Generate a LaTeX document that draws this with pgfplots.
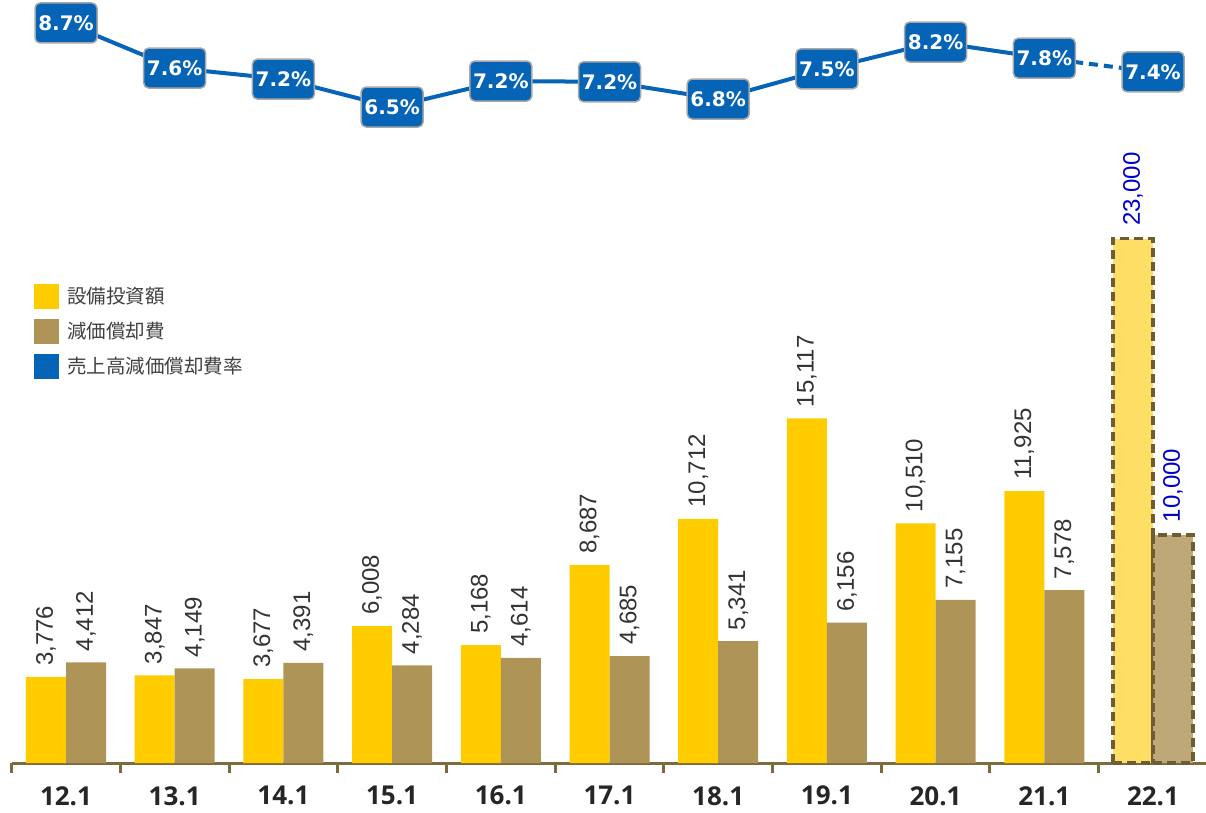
\documentclass[border=0pt]{standalone}
\usepackage{pgfplots}
\usepackage{pgfplotstable}
\pgfplotsset{compat=1.18}
\usepackage{fontspec}
\setmainfont{Liberation Sans}
\newfontfamily\cjk{Noto Sans CJK JP}
\newfontfamily\pctf{DejaVu Sans}
\newfontfamily\tickf{Open Sans}
\definecolor{yel}{HTML}{FFCC00}
\definecolor{brn}{HTML}{AE9457}
\definecolor{yelF}{HTML}{FFDE66}
\definecolor{brnF}{HTML}{BEA878}
\definecolor{dashC}{HTML}{6E5C35}
\definecolor{axisC}{HTML}{7D6B3D}
\definecolor{lineC}{HTML}{0564B5}
\definecolor{boxB}{HTML}{A8A8A8}
\definecolor{valC}{HTML}{333333}
\definecolor{fcC}{HTML}{0000CC}
\definecolor{tickC}{HTML}{262626}
\definecolor{legC}{HTML}{404040}

\pgfplotstableread{
x y lab
0 3776 3,776
1 3847 3,847
2 3677 3,677
3 6008 6,008
4 5168 5,168
5 8687 8,687
6 10712 10,712
7 15117 15,117
8 10510 10,510
9 11925 11,925
}\capex
\pgfplotstableread{
x y lab
0 4412 4,412
1 4149 4,149
2 4391 4,391
3 4284 4,284
4 4614 4,614
5 4685 4,685
6 5341 5,341
7 6156 6,156
8 7155 7,155
9 7578 7,578
}\depr
\pgfplotstableread{
x y lab
10 23000 23,000
}\capexF
\pgfplotstableread{
x y lab
10 10000 10,000
}\deprF
\pgfplotstableread{
x y lab
0 8.70 8.7
1 7.52 7.6
2 7.23 7.2
3 6.50 6.5
4 7.18 7.2
5 7.16 7.2
6 6.71 6.8
7 7.50 7.5
8 8.20 8.2
9 7.78 7.8
10 7.42 7.4
}\ratio

\pgfplotsset{
  vlab/.style={nodes near coords, point meta=explicit symbolic,
    every node near coord/.append style={rotate=90, anchor=west, inner xsep=11pt, inner ysep=0pt, text=#1, font=\fontsize{24}{28}\selectfont}},
}

\begin{document}
\begin{tikzpicture}
\useasboundingbox (0,0) rectangle (1206pt,812pt);
\begin{axis}[
  at={(11.65pt,49pt)}, anchor=south west,
  scale only axis, width=1195.7pt, height=763pt,
  xmin=-0.5, xmax=10.5, ymin=0, ymax=33465,
  clip=false,
  axis x line=bottom, axis y line=none,
  axis line style={-, draw=axisC, line width=3pt},
  xtick={0,...,10},
  xticklabels={12.1,13.1,14.1,15.1,16.1,17.1,18.1,19.1,20.1,21.1,22.1},
  minor xtick={-0.5,0.5,1.5,2.5,3.5,4.5,5.5,6.5,7.5,8.5,9.5},
  major tick length=0pt, minor tick length=10pt, tick align=outside,
  tick style={draw=axisC, line width=3pt},
  xticklabel style={font=\tickf\bfseries\fontsize{26}{30}\selectfont, text=tickC, anchor=north, inner sep=0pt, yshift=-23pt},
  legend style={at={(axis description cs:0.0187,0.628)}, anchor=north west, draw=none, fill=none,
    font=\cjk\fontsize{19.5}{24}\selectfont, text=legC, row sep=10pt, inner sep=0pt,
    nodes={inner sep=0pt, inner xsep=8pt}},
  legend cell align=left,
  legend image code/.code={\fill[#1, draw=none] (0pt,-12.5pt) rectangle (25pt,12.5pt);},
  bar width=40pt,
]
\addplot[ybar, forget plot, bar shift=0pt, fill=yel, draw=none, vlab=valC]
  table[x expr=\thisrow{x}-0.184,y=y,meta=lab]{\capex};
\addplot[ybar, forget plot, bar shift=0pt, fill=brn, draw=none, vlab=valC]
  table[x expr=\thisrow{x}+0.184,y=y,meta=lab]{\depr};
\addplot[ybar, forget plot, bar shift=0pt, fill=yelF, draw=dashC, line width=3.5pt, dash pattern=on 9pt off 5pt, vlab=fcC]
  table[x expr=\thisrow{x}-0.184,y=y,meta=lab]{\capexF};
\addplot[ybar, forget plot, bar shift=0pt, fill=brnF, draw=dashC, line width=3.5pt, dash pattern=on 9pt off 5pt, vlab=fcC]
  table[x expr=\thisrow{x}+0.184,y=y,meta=lab]{\deprF};
\addlegendimage{fill=yel}
\addlegendentry{設備投資額}
\addlegendimage{fill=brn}
\addlegendentry{減価償却費}
\addlegendimage{fill=lineC}
\addlegendentry{売上高減価償却費率}
\end{axis}
\begin{axis}[
  at={(11.65pt,49pt)}, anchor=south west,
  scale only axis, width=1195.7pt, height=763pt,
  xmin=-0.5, xmax=10.5, ymin=-10.672, ymax=9.302,
  hide axis, clip=false,
]
\addplot[lineC, line width=4pt] table[x=x,y=y]{
x y
0 8.70
1 7.52
2 7.23
3 6.50
4 7.18
5 7.16
6 6.71
7 7.50
8 8.20
9 7.78
};
\addplot[lineC, line width=4pt, dash pattern=on 9pt off 6pt] table[x=x,y=y]{
x y
9 7.78
10 7.42
};
\addplot[draw=none, mark=none, nodes near coords={\pgfplotspointmeta\%}, point meta=explicit symbolic,
  every node near coord/.append style={anchor=center, fill=lineC, draw=boxB, line width=1.5pt, rounded corners=5pt,
    minimum width=62pt, minimum height=40pt, inner sep=3pt, text=white, font=\pctf\bfseries\fontsize{20}{23}\selectfont}]
  table[x=x,y=y,meta=lab]{\ratio};
\end{axis}
\end{tikzpicture}
\end{document}
